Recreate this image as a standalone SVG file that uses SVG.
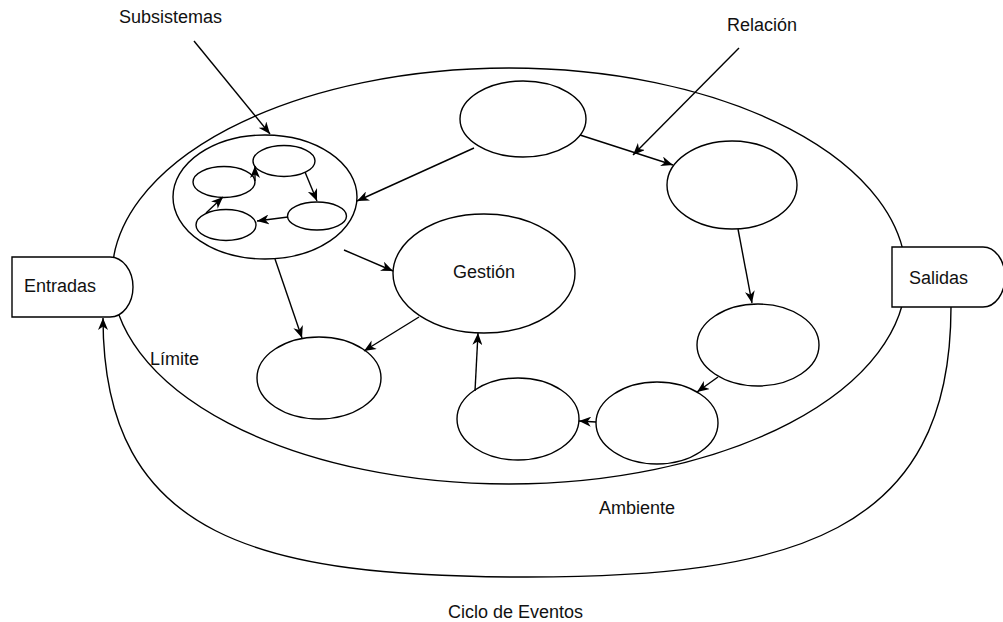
<svg xmlns="http://www.w3.org/2000/svg" width="1003" height="622" viewBox="0 0 1003 622">
  <style>
    .shape { fill: #ffffff; stroke: #000000; stroke-width: 1.4; }
    .edge { fill: none; stroke: #000000; stroke-width: 1.4; marker-end: url(#arrow); }
    .line { fill: none; stroke: #000000; stroke-width: 1.4; }
    .label { font-family: "Liberation Sans", Arial, sans-serif; font-size: 18px; fill: #111111; }
  </style>
  <defs>
    <marker id="arrow" markerUnits="userSpaceOnUse" markerWidth="13" markerHeight="10" refX="12" refY="5" orient="auto">
      <path d="M0,0 L12,5 L0,10 L3.5,5 Z" fill="#000000"/>
    </marker>
  </defs>
  <rect width="1003" height="622" fill="#ffffff"/>

  <!-- system boundary -->
  <g id="limite">
    <ellipse class="shape" cx="509" cy="276" rx="397" ry="208"/>
    <text class="label" x="150" y="365">Límite</text>
  </g>

  <!-- inputs / outputs -->
  <g id="entradas">
    <path class="shape" d="M12,257 H110 A23,30 0 0 1 110,317 H12 Z"/>
    <text class="label" x="24" y="292">Entradas</text>
  </g>
  <g id="salidas">
    <path class="shape" d="M892,247 H983 A22,30 0 0 1 983,307 H892 Z"/>
    <text class="label" x="909" y="284">Salidas</text>
  </g>

  <!-- subsystem cluster -->
  <g id="subsistemas">
    <ellipse class="shape" cx="265" cy="197" rx="92" ry="62"/>
    <ellipse class="shape" cx="284" cy="161" rx="31" ry="15.5"/>
    <ellipse class="shape" cx="224" cy="182" rx="31" ry="15.5"/>
    <ellipse class="shape" cx="317" cy="216" rx="29.5" ry="14"/>
    <ellipse class="shape" cx="226" cy="225" rx="30" ry="15.5"/>
  </g>

  <g id="gestion">
    <ellipse class="shape" cx="484" cy="273.5" rx="91" ry="59.5"/>
    <text class="label" x="484" y="278" text-anchor="middle">Gestión</text>
  </g>

  <g id="nodo-superior"><ellipse class="shape" cx="523" cy="119" rx="63" ry="38"/></g>
  <g id="nodo-derecho-1"><ellipse class="shape" cx="732" cy="185" rx="65" ry="44"/></g>
  <g id="nodo-derecho-2"><ellipse class="shape" cx="758" cy="345" rx="61" ry="41"/></g>
  <g id="nodo-inferior-1"><ellipse class="shape" cx="657" cy="423" rx="61" ry="41"/></g>
  <g id="nodo-inferior-2"><ellipse class="shape" cx="518" cy="419" rx="61" ry="41"/></g>
  <g id="nodo-izquierdo"><ellipse class="shape" cx="319" cy="378" rx="62" ry="41"/></g>

  <!-- free labels -->
  <g id="etiquetas">
    <text class="label" x="119" y="23">Subsistemas</text>
    <text class="label" x="727" y="31">Relación</text>
    <text class="label" x="599" y="514">Ambiente</text>
    <text class="label" x="448" y="618">Ciclo de Eventos</text>
  </g>

  <!-- connectors -->
  <g id="conectores">
    <!-- inner subsystem cycle -->
    <line class="edge" x1="305" y1="172" x2="317" y2="201"/>
    <line class="edge" x1="288" y1="217" x2="257" y2="221"/>
    <line class="edge" x1="206" y1="213" x2="223" y2="197"/>
    <line class="edge" x1="255" y1="181" x2="255" y2="166"/>

    <!-- callouts -->
    <line class="edge" x1="194" y1="41" x2="270" y2="134"/>
    <line class="edge" x1="739" y1="48" x2="633" y2="155"/>

    <!-- relations between subsystems -->
    <line class="edge" x1="580" y1="135" x2="673" y2="165"/>
    <line class="edge" x1="474" y1="148" x2="357" y2="201"/>
    <line class="edge" x1="344" y1="250" x2="393" y2="271"/>
    <line class="edge" x1="275" y1="259" x2="302" y2="338"/>
    <line class="edge" x1="419" y1="317" x2="364" y2="351"/>
    <line class="edge" x1="738" y1="229" x2="752" y2="303"/>
    <line class="edge" x1="718" y1="377" x2="697" y2="392"/>
    <line class="edge" x1="596" y1="422" x2="579" y2="421"/>
    <line class="edge" x1="475" y1="391" x2="478" y2="333"/>

    <!-- event cycle: outputs back to inputs -->
    <path class="edge" d="M951,307 C951,535 790,577 527,577 C262,577 103,540 103,318"/>
  </g>
</svg>
